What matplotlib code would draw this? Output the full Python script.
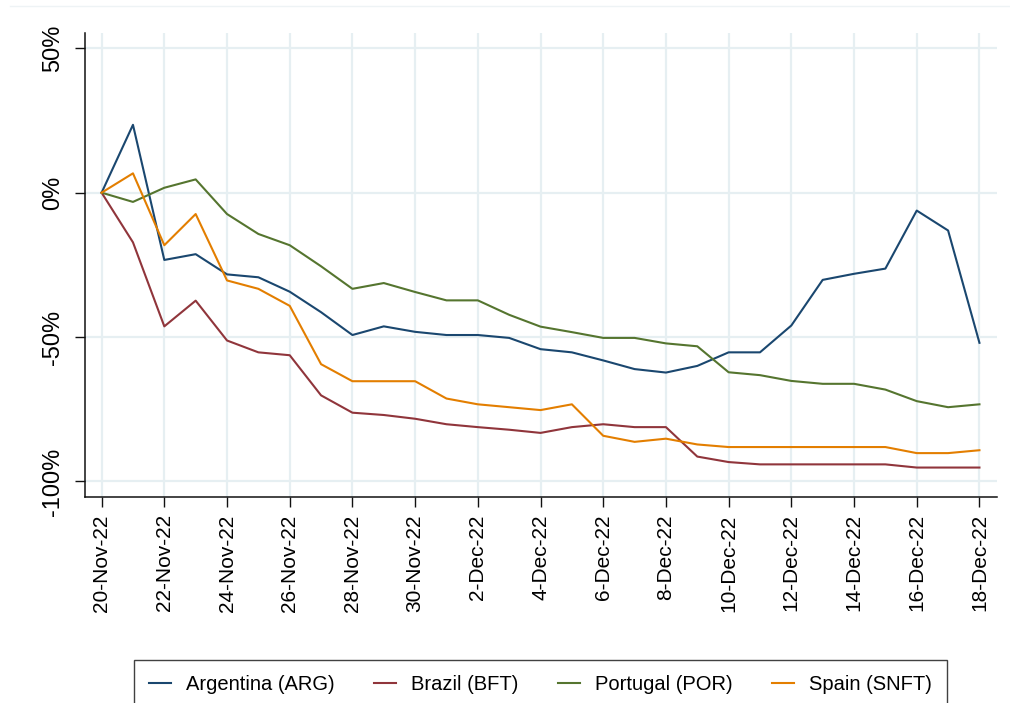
import matplotlib
matplotlib.use('Agg')
import matplotlib.pyplot as plt
from matplotlib.lines import Line2D
import numpy as np
import pandas as pd

# ---- data ----
dates = pd.date_range('2022-11-20', '2022-12-18', freq='D')
argentina = [0, 23.5, -23.3, -21.3, -28.3, -29.3, -34.3, -41.4, -49.3, -46.3,
             -48.2, -49.3, -49.3, -50.3, -54.2, -55.3, -58.1, -61.1, -62.3, -60.0,
             -55.3, -55.3, -46.0, -30.2, -28.1, -26.3, -6.2, -13.1, -52.0]
brazil = [0, -17.2, -46.3, -37.4, -51.2, -55.3, -56.3, -70.2, -76.2, -77.0,
          -78.3, -80.2, -81.2, -82.1, -83.2, -81.2, -80.2, -81.2, -81.2, -91.4,
          -93.3, -94.1, -94.1, -94.1, -94.1, -94.1, -95.2, -95.2, -95.2]
portugal = [0, -3.2, 1.7, 4.6, -7.4, -14.3, -18.2, -25.5, -33.3, -31.3,
            -34.4, -37.3, -37.3, -42.3, -46.4, -48.3, -50.3, -50.3, -52.2, -53.2,
            -62.2, -63.2, -65.2, -66.2, -66.2, -68.2, -72.2, -74.3, -73.3]
spain = [0, 6.7, -18.2, -7.4, -30.4, -33.3, -39.2, -59.4, -65.3, -65.3,
         -65.3, -71.3, -73.3, -74.3, -75.3, -73.3, -84.2, -86.3, -85.2, -87.2,
         -88.1, -88.1, -88.1, -88.1, -88.1, -88.1, -90.2, -90.2, -89.2]
series_labels = ['Argentina (ARG)', 'Brazil (BFT)', 'Portugal (POR)', 'Spain (SNFT)']
series_colors = ['#1a476f', '#90353b', '#55752f', '#e37e00']
y_ticks = [-100, -50, 0, 50]
y_tick_labels = ['-100%', '-50%', '0%', '50%']

plt.rcParams['font.family'] = ['Liberation Sans', 'DejaVu Sans']

W, H = 1010, 703
fig = plt.figure(figsize=(W / 100, H / 100), dpi=100)
fig.patch.set_facecolor('white')

left, right, top, bottom = 85, 997, 33, 497
ax = fig.add_axes([left / W, 1 - bottom / H, (right - left) / W, (bottom - top) / H])

x = np.arange(len(dates))
for vals, lab, col in zip([argentina, brazil, portugal, spain], series_labels, series_colors):
    ax.plot(x, vals, color=col, lw=1.5, label=lab, zorder=3)

ax.set_xlim(-0.53, len(dates) - 1 + 0.56)
ax.set_ylim(-105.4, 55.3)

xt = x[::2]
ax.set_xticks(xt)
ax.set_xticklabels([f"{d.day}-{d.strftime('%b-%y')}" for d in dates[::2]],
                   rotation=90, fontsize=15, va='top', ha='center')
ax.set_yticks(y_ticks)
ax.set_yticklabels(y_tick_labels, rotation=90, fontsize=17, va='center', ha='right')

ax.grid(True, color='#e6eff2', lw=1.6, zorder=0)
ax.set_axisbelow(True)

for s in ['top', 'right']:
    ax.spines[s].set_visible(False)
for s in ['left', 'bottom']:
    ax.spines[s].set_linewidth(1.1)
    ax.spines[s].set_color('#111111')

ax.tick_params(axis='x', direction='out', length=7.5, width=1, color='#111111', pad=5)
ax.tick_params(axis='y', direction='out', length=7, width=1, color='#111111', pad=8)

# faint outer border line at top
fig.add_artist(Line2D([10 / W, 1], [1 - 6 / H, 1 - 6 / H], color='#eef3f5', lw=1,
                      transform=fig.transFigure))

handles, labels = ax.get_legend_handles_labels()
leg = fig.legend(handles, labels, loc='upper left', ncol=4,
                 bbox_to_anchor=(134 / W, 1 - 660 / H, 813 / W, 0),
                 bbox_transform=fig.transFigure, mode='expand',
                 fontsize=14.5, frameon=True, fancybox=False, edgecolor='#111111',
                 handlelength=1.1, handletextpad=0.75, borderpad=0.75,
                 columnspacing=2.0, borderaxespad=0)
leg.get_frame().set_linewidth(1.0)

fig.savefig('out.png', dpi=100)
